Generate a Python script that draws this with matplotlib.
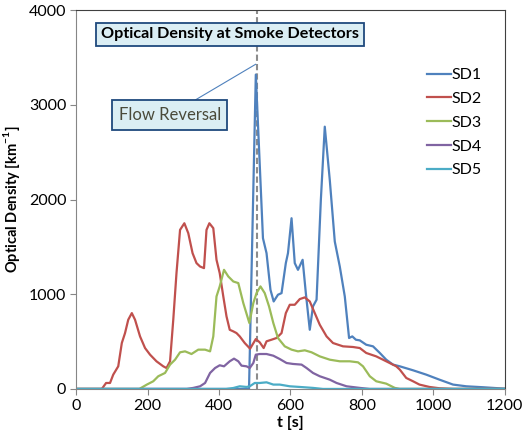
import matplotlib
matplotlib.use("Agg")
import matplotlib.pyplot as plt

plt.rcParams["font.family"] = ["Lato", "DejaVu Sans"]

# Series (time [s], optical density [1/km])
sd1_t = [0, 484, 503, 523, 533, 544, 553, 565, 575, 587, 593, 603, 612, 621, 634, 643,
         654, 663, 673, 685, 696, 710, 724, 738, 752, 764, 773, 783, 794, 812, 831, 850,
         868, 887, 906, 943, 980, 1017, 1055, 1092, 1139, 1200]
sd1_v = [0, 0, 3320, 1592, 1434, 1047, 924, 995, 1012, 1329, 1434, 1803, 1329, 1258, 1364, 1012,
         625, 872, 942, 1996, 2770, 2207, 1557, 1293, 977, 538, 555, 520, 513, 467, 450, 380,
         309, 257, 239, 197, 151, 98, 46, 28, 18, 3]

sd2_t = [0, 72, 84, 95, 104, 118, 128, 137, 146, 156, 165, 179, 193, 207, 225, 244, 253, 263,
         272, 281, 291, 303, 314, 326, 337, 347, 358, 365, 373, 384, 393, 402, 412, 421, 430,
         440, 449, 458, 472, 487, 503, 514, 525, 533, 547, 561, 575, 587, 598, 612, 626, 640,
         654, 668, 682, 701, 719, 747, 775, 794, 812, 840, 868, 896, 906, 924, 943, 961, 989,
         1017, 1055, 1200]
sd2_v = [0, 0, 63, 63, 151, 239, 485, 590, 731, 801, 731, 555, 432, 362, 292, 239, 221, 292,
         731, 1223, 1680, 1750, 1645, 1434, 1329, 1293, 1276, 1680, 1750, 1698, 1364, 1223, 977,
         766, 625, 608, 590, 555, 485, 425, 527, 492, 432, 503, 520, 538, 590, 801, 889, 889,
         949, 967, 924, 801, 678, 555, 485, 450, 443, 432, 380, 344, 292, 239, 204, 116, 81,
         46, 21, 7, 0, 0]

sd3_t = [0, 177, 198, 216, 230, 249, 263, 277, 291, 305, 323, 342, 361, 375, 384, 393, 402,
         414, 426, 440, 454, 468, 485, 496, 505, 516, 528, 540, 552, 565, 584, 603, 621, 640,
         659, 682, 710, 738, 766, 789, 803, 822, 840, 868, 892, 906, 1200]
sd3_v = [0, 0, 46, 81, 134, 169, 257, 309, 387, 397, 369, 415, 415, 397, 555, 977, 1083,
         1258, 1188, 1135, 1118, 907, 696, 907, 1012, 1083, 1012, 872, 696, 538, 450, 415, 397,
         408, 387, 344, 309, 292, 292, 281, 239, 134, 81, 56, 11, 0, 0]

sd4_t = [0, 310, 328, 347, 361, 375, 389, 402, 414, 430, 442, 454, 463, 477, 486, 496, 503,
         514, 533, 552, 570, 589, 607, 631, 645, 663, 682, 710, 729, 757, 794, 822, 1200]
sd4_v = [0, 0, 11, 28, 63, 169, 221, 250, 239, 292, 320, 292, 246, 239, 221, 274, 362,
         369, 369, 351, 316, 274, 264, 257, 221, 169, 134, 98, 63, 28, 11, 0, 0]

sd5_t = [0, 420, 440, 458, 477, 486, 500, 514, 533, 552, 570, 598, 626, 663, 691, 1200]
sd5_v = [0, 0, 10, 28, 21, 28, 63, 63, 70, 46, 46, 28, 21, 11, 0, 0]

series = [
    ("SD1", sd1_t, sd1_v, "#4F81BD"),
    ("SD2", sd2_t, sd2_v, "#C0504D"),
    ("SD3", sd3_t, sd3_v, "#9BBB59"),
    ("SD4", sd4_t, sd4_v, "#8064A2"),
    ("SD5", sd5_t, sd5_v, "#4BACC6"),
]

FLOW_REVERSAL_T = 505

fig = plt.figure(figsize=(5.32, 4.44), dpi=100)
ax = fig.add_axes([0.143, 0.124, 0.806, 0.853])

ax.axvline(FLOW_REVERSAL_T, color="#8C8C8C", linestyle=(0, (3, 1.5)), linewidth=1.5, zorder=1)

for name, t, v, c in series:
    ax.plot(t, v, color=c, linewidth=1.6, label=name, zorder=2)

ax.set_xlim(0, 1200)
ax.set_ylim(0, 4000)
ax.set_xticks(range(0, 1201, 200))
ax.set_yticks(range(0, 4001, 1000))
ax.tick_params(direction="out", length=4, color="#868686", labelsize=11.5, pad=3)
for side in ["left", "bottom"]:
    ax.spines[side].set_color("#868686")
for side in ["top", "right"]:
    ax.spines[side].set_color("#404040")

ax.set_xlabel("t [s]", fontsize=11.5, fontweight="bold", labelpad=2)
ax.set_ylabel("Optical Density [km$^{\\mathregular{-1}}$]", fontsize=10.5, fontweight="bold", labelpad=5)

ax.text(430, 3745, "Optical Density at Smoke Detectors", ha="center", va="center",
        fontsize=11.6, fontweight="bold",
        bbox=dict(boxstyle="square,pad=0.3", facecolor="#DBEEF4", edgecolor="#1F497D", linewidth=1.3))

ax.annotate("Flow Reversal", xy=(503, 3430), xytext=(262, 2892), ha="center", va="center",
            fontsize=12, color="#4A4A3A",
            bbox=dict(boxstyle="square,pad=0.4", facecolor="#DBEEF4", edgecolor="#1F497D", linewidth=1.3),
            arrowprops=dict(arrowstyle="-", color="#4F81BD", linewidth=0.8,
                            shrinkA=0, shrinkB=0))

ax.legend(loc="upper left", bbox_to_anchor=(0.785, 0.885), frameon=False, fontsize=11.5,
          handlelength=1.5, handletextpad=0.0, labelspacing=0.6)

fig.savefig("out.png", dpi=100)
